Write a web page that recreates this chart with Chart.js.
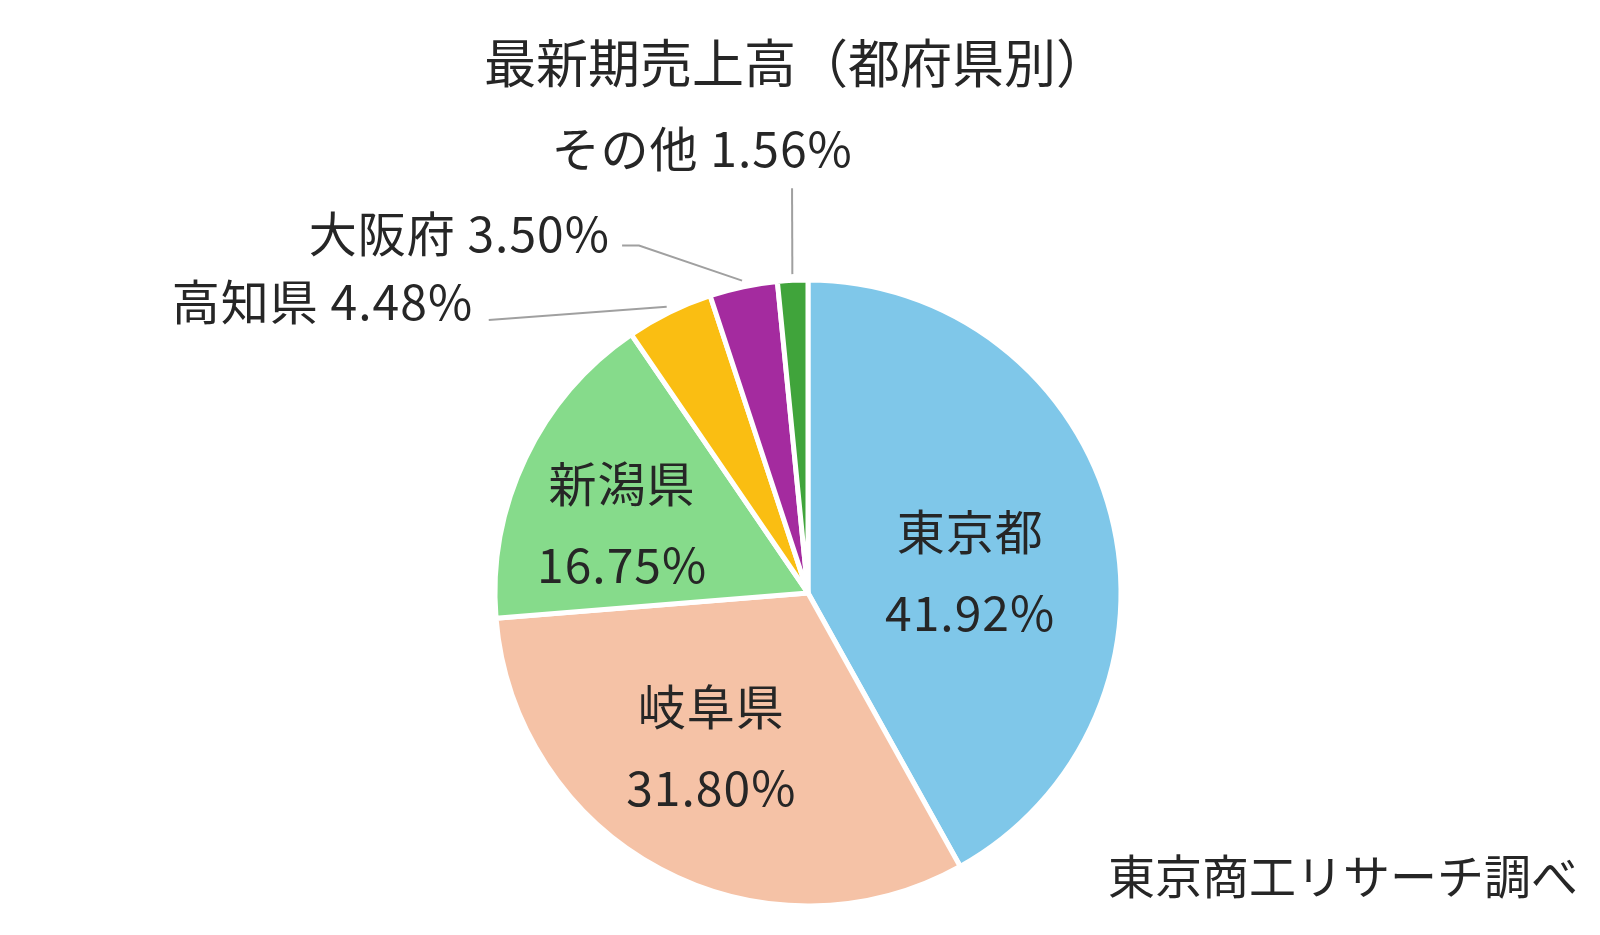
<!DOCTYPE html>
<html><head><meta charset="utf-8">
<script src="https://cdn.jsdelivr.net/npm/chart.js@4.4.0/dist/chart.umd.min.js"></script>
<style>html,body{margin:0;padding:0;background:#fff;} #wrap{width:1600px;height:935px;position:relative;}</style>
</head><body><div id="wrap"><canvas id="c" width="1600" height="935"></canvas></div>
<script>
const chartTitle = '最新期売上高（都府県別）';
const sourceNote = '東京商工リサーチ調べ';
const categories = ['東京都', '岐阜県', '新潟県', '高知県', '大阪府', 'その他'];
const shares = [41.92, 31.80, 16.75, 4.48, 3.50, 1.56];
const sliceColors = ['#7FC7E9', '#F5C2A6', '#86DB8B', '#FABE12', '#A42B9F', '#40A43B'];

const FONT = '"Noto Sans CJK JP", "Noto Sans", sans-serif';
const TEXT = '#262626';
// label placement (in units of the pie radius, relative to the pie centre)
const labelStyle = [
  {mode: 'inside', x: 0.518, y: -0.068},
  {mode: 'inside', x: -0.309, y: 0.49},
  {mode: 'inside', x: -0.594, y: -0.222},
  {mode: 'outside', tx: -1.07, ty: -0.93, line: [[-1.02, -0.872]]},
  {mode: 'outside', tx: -0.633, ty: -1.148, line: [[-0.594, -1.11], [-0.54, -1.11]]},
  {mode: 'outside', tx: 0.143, ty: -1.42, line: [[-0.051, -1.293]]}
];

const labelPlugin = {
  id: 'labels',
  afterDatasetsDraw(chart) {
    const ctx = chart.ctx;
    const meta = chart.getDatasetMeta(0);
    const hasLS = 'letterSpacing' in ctx;
    ctx.save();
    ctx.fillStyle = TEXT;
    ctx.textBaseline = 'middle';
    if (hasLS) ctx.letterSpacing = '1px';
    meta.data.forEach((arc, i) => {
      const cx = arc.x, cy = arc.y, r = arc.outerRadius;
      const st = labelStyle[i];
      const pct = shares[i].toFixed(2) + '%';
      if (st.mode === 'inside') {
        const x = cx + st.x * r, y = cy + st.y * r;
        ctx.font = '48px ' + FONT;
        ctx.textAlign = 'center';
        ctx.fillText(categories[i], x, y - 40);
        ctx.fillText(pct, x, y + 41);
      } else {
        const mid = (arc.startAngle + arc.endAngle) / 2;
        const ex = cx + Math.cos(mid) * r * 1.02, ey = cy + Math.sin(mid) * r * 1.02;
        ctx.strokeStyle = '#A0A0A0';
        ctx.lineWidth = 2;
        ctx.beginPath();
        st.line.forEach((p, k) => {
          const px = cx + p[0] * r, py = cy + p[1] * r;
          if (k === 0) ctx.moveTo(px, py); else ctx.lineTo(px, py);
        });
        ctx.lineTo(ex, ey);
        ctx.stroke();
        ctx.font = '48px ' + FONT;
        ctx.textAlign = 'right';
        ctx.fillText(categories[i] + ' ' + pct, cx + st.tx * r, cy + st.ty * r);
      }
    });
    if (hasLS) ctx.letterSpacing = '0px';
    ctx.font = '52px ' + FONT;
    ctx.textAlign = 'center';
    ctx.fillText(chartTitle, 796, 63);
    ctx.font = '47px ' + FONT;
    ctx.fillText(sourceNote, 1343, 876);
    ctx.restore();
  }
};

new Chart(document.getElementById('c'), {
  type: 'pie',
  data: {
    labels: categories,
    datasets: [{
      data: shares,
      backgroundColor: sliceColors,
      borderColor: '#FFFFFF',
      borderWidth: 5,
      hoverOffset: 0
    }]
  },
  options: {
    responsive: false,
    animation: false,
    devicePixelRatio: 1,
    layout: {padding: {left: 492.5, top: 277.5, right: 476.5, bottom: 26.5}},
    plugins: {legend: {display: false}, tooltip: {enabled: false}, title: {display: false}}
  },
  plugins: [labelPlugin]
});
</script>
</body></html>
